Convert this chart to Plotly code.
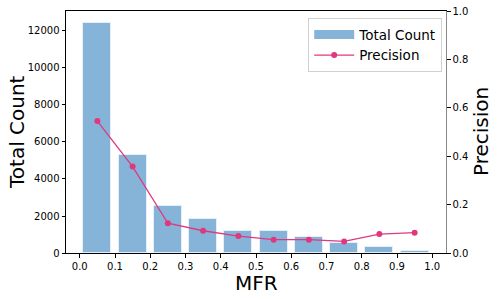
import plotly.graph_objects as go

mfr_centers = [0.05, 0.15, 0.25, 0.35, 0.45, 0.55, 0.65, 0.75, 0.85, 0.95]
total_count = [12450, 5280, 2560, 1820, 1210, 1200, 880, 540, 320, 125]
precision = [0.545, 0.357, 0.123, 0.092, 0.070, 0.055, 0.055, 0.048, 0.078, 0.084]
x_ticks = [0.0, 0.1, 0.2, 0.3, 0.4, 0.5, 0.6, 0.7, 0.8, 0.9, 1.0]
y_ticks = [0, 2000, 4000, 6000, 8000, 10000, 12000]
y2_ticks = [0.0, 0.2, 0.4, 0.6, 0.8, 1.0]

font = "DejaVu Sans"
bar_color = "#86b4d9"
line_color = "#e0387f"

W, H = 498, 299
L, R, T, B = 66, 52, 11, 46

fig = go.Figure()
fig.add_trace(go.Bar(
    x=mfr_centers, y=total_count, width=0.08, name="Total Count",
    marker=dict(color=bar_color, line=dict(color="#e6eff8", width=1)),
    yaxis="y", showlegend=False,
))
# legend proxy for bars (wide rectangle like the reference)
fig.add_trace(go.Scatter(
    x=[None], y=[None], name="Total Count", mode="lines",
    line=dict(color=bar_color, width=9), yaxis="y",
))
fig.add_trace(go.Scatter(
    x=mfr_centers, y=precision, name="Precision", mode="lines+markers",
    line=dict(color=line_color, width=1.3),
    marker=dict(color=line_color, size=6),
    yaxis="y2",
))

fig.update_layout(
    width=W, height=H,
    margin=dict(l=L, r=R, t=T, b=B, autoexpand=False),
    plot_bgcolor="white", paper_bgcolor="white",
    font=dict(family=font, color="black", size=10),
    showlegend=True,
    legend=dict(x=0.99, y=0.97, xanchor="right", yanchor="top",
                bgcolor="rgba(255,255,255,0.8)", bordercolor="#d0d0d0", borderwidth=1,
                font=dict(size=13.5, family=font), tracegroupgap=0, itemwidth=40),
    xaxis=dict(range=[-0.039, 1.039], tickvals=x_ticks, tickformat=".1f", automargin=False,
               showgrid=False, zeroline=False, showline=True, linecolor="black", linewidth=1,
               mirror=True, ticks="outside", ticklen=3.5, tickcolor="black"),
    yaxis=dict(range=[0, 13080], tickvals=y_ticks, tickformat="d", automargin=False,
               showgrid=False, zeroline=False, showline=True, linecolor="black", linewidth=1,
               ticks="outside", ticklen=3.5, tickcolor="black"),
    yaxis2=dict(range=[0, 1.0], tickvals=y2_ticks, tickformat=".1f", overlaying="y", side="right",
                automargin=False,
                showgrid=False, zeroline=False, showline=True, linecolor="#888888", linewidth=1,
                ticks="outside", ticklen=3.5, tickcolor="black"),
    bargap=0,
    annotations=[
        dict(text="MFR", xref="paper", yref="paper", x=0.5, y=-(283 - (H - B)) / (H - T - B),
             xanchor="center", yanchor="middle", showarrow=False,
             font=dict(size=20, family=font)),
        dict(text="Total Count", xref="paper", yref="paper", x=(17 - L) / (W - L - R), y=0.5,
             xanchor="center", yanchor="middle", showarrow=False, textangle=-90,
             font=dict(size=20, family=font)),
        dict(text="Precision", xref="paper", yref="paper", x=(481 - L) / (W - L - R), y=0.5,
             xanchor="center", yanchor="middle", showarrow=False, textangle=-90,
             font=dict(size=20, family=font)),
    ],
)

fig.write_html("out.html", config={"displayModeBar": False},
               post_script="document.body.style.margin='0px';document.body.style.overflow='hidden';")
